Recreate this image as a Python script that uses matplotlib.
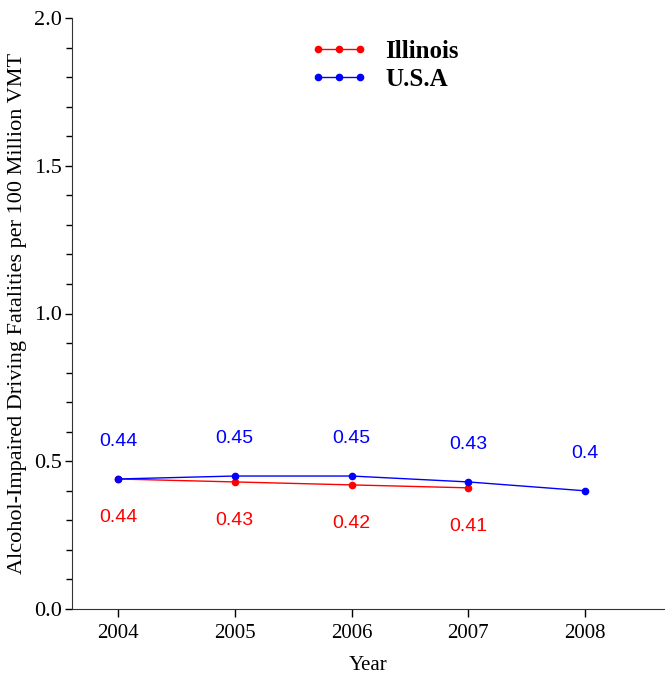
import matplotlib.pyplot as plt
from matplotlib.ticker import MultipleLocator

# data
years = [2004, 2005, 2006, 2007, 2008]
illinois_years = [2004, 2005, 2006, 2007]
illinois = [0.44, 0.43, 0.42, 0.41]
usa = [0.44, 0.45, 0.45, 0.43, 0.40]
illinois_labels = ['0.44', '0.43', '0.42', '0.41']
usa_labels = ['0.44', '0.45', '0.45', '0.43', '0.4']

serif = 'Liberation Serif'
sans = 'Liberation Sans'

fig = plt.figure(figsize=(6.65, 6.75), dpi=100)
ax = fig.add_axes([72/665, 1 - 609/675, 1 - 72/665, (609 - 18)/675])

ax.plot(illinois_years, illinois, color='red', marker='o', markersize=4.5, lw=1, label='Illinois')
ax.plot(years, usa, color='blue', marker='o', markersize=4.5, lw=1, label='U.S.A')

# value labels
for x, y, t in zip(illinois_years, illinois, illinois_labels):
    ax.annotate(t, (x, y), xytext=(0, -28), textcoords='offset points',
                ha='center', va='center', color='red', fontsize=14, family=sans)
for x, y, t in zip(years, usa, usa_labels):
    ax.annotate(t, (x, y), xytext=(0, 27), textcoords='offset points',
                ha='center', va='center', color='blue', fontsize=14, family=sans)

ax.set_xlim(2003.606, 2008.685)
ax.set_ylim(0, 2.0)
ax.set_xticks(years)
ax.set_xticklabels([str(y) for y in years], family=serif, fontsize=15)
ax.yaxis.set_minor_locator(MultipleLocator(0.1))
ax.set_yticks([0, 0.5, 1.0, 1.5, 2.0])
ax.set_yticklabels(['0.0', '0.5', '1.0', '1.5', '2.0'], family=serif, fontsize=16)
ax.tick_params(axis='y', which='major', length=5, width=1, pad=2)
ax.tick_params(axis='y', which='minor', length=4, width=1)
ax.tick_params(axis='x', which='major', length=6, width=1, pad=5)

ax.spines['top'].set_visible(False)
ax.spines['right'].set_visible(False)
ax.spines['left'].set_color('#333333')
ax.spines['bottom'].set_color('#333333')

ax.set_xlabel('Year', family=serif, fontsize=15, labelpad=9)
ax.set_ylabel('Alcohol-Impaired Driving Fatalities per 100 Million VMT', family=serif, fontsize=16, labelpad=5)

ax.legend(loc='upper left', bbox_to_anchor=(310/665, 1 - 40/675), bbox_transform=fig.transFigure,
          frameon=False, numpoints=3, borderpad=0, borderaxespad=0,
          prop={'family': serif, 'weight': 'bold', 'size': 18}, handlelength=2.3, handletextpad=0.7,
          labelspacing=0.2)

plt.savefig('out.png', dpi=100)
